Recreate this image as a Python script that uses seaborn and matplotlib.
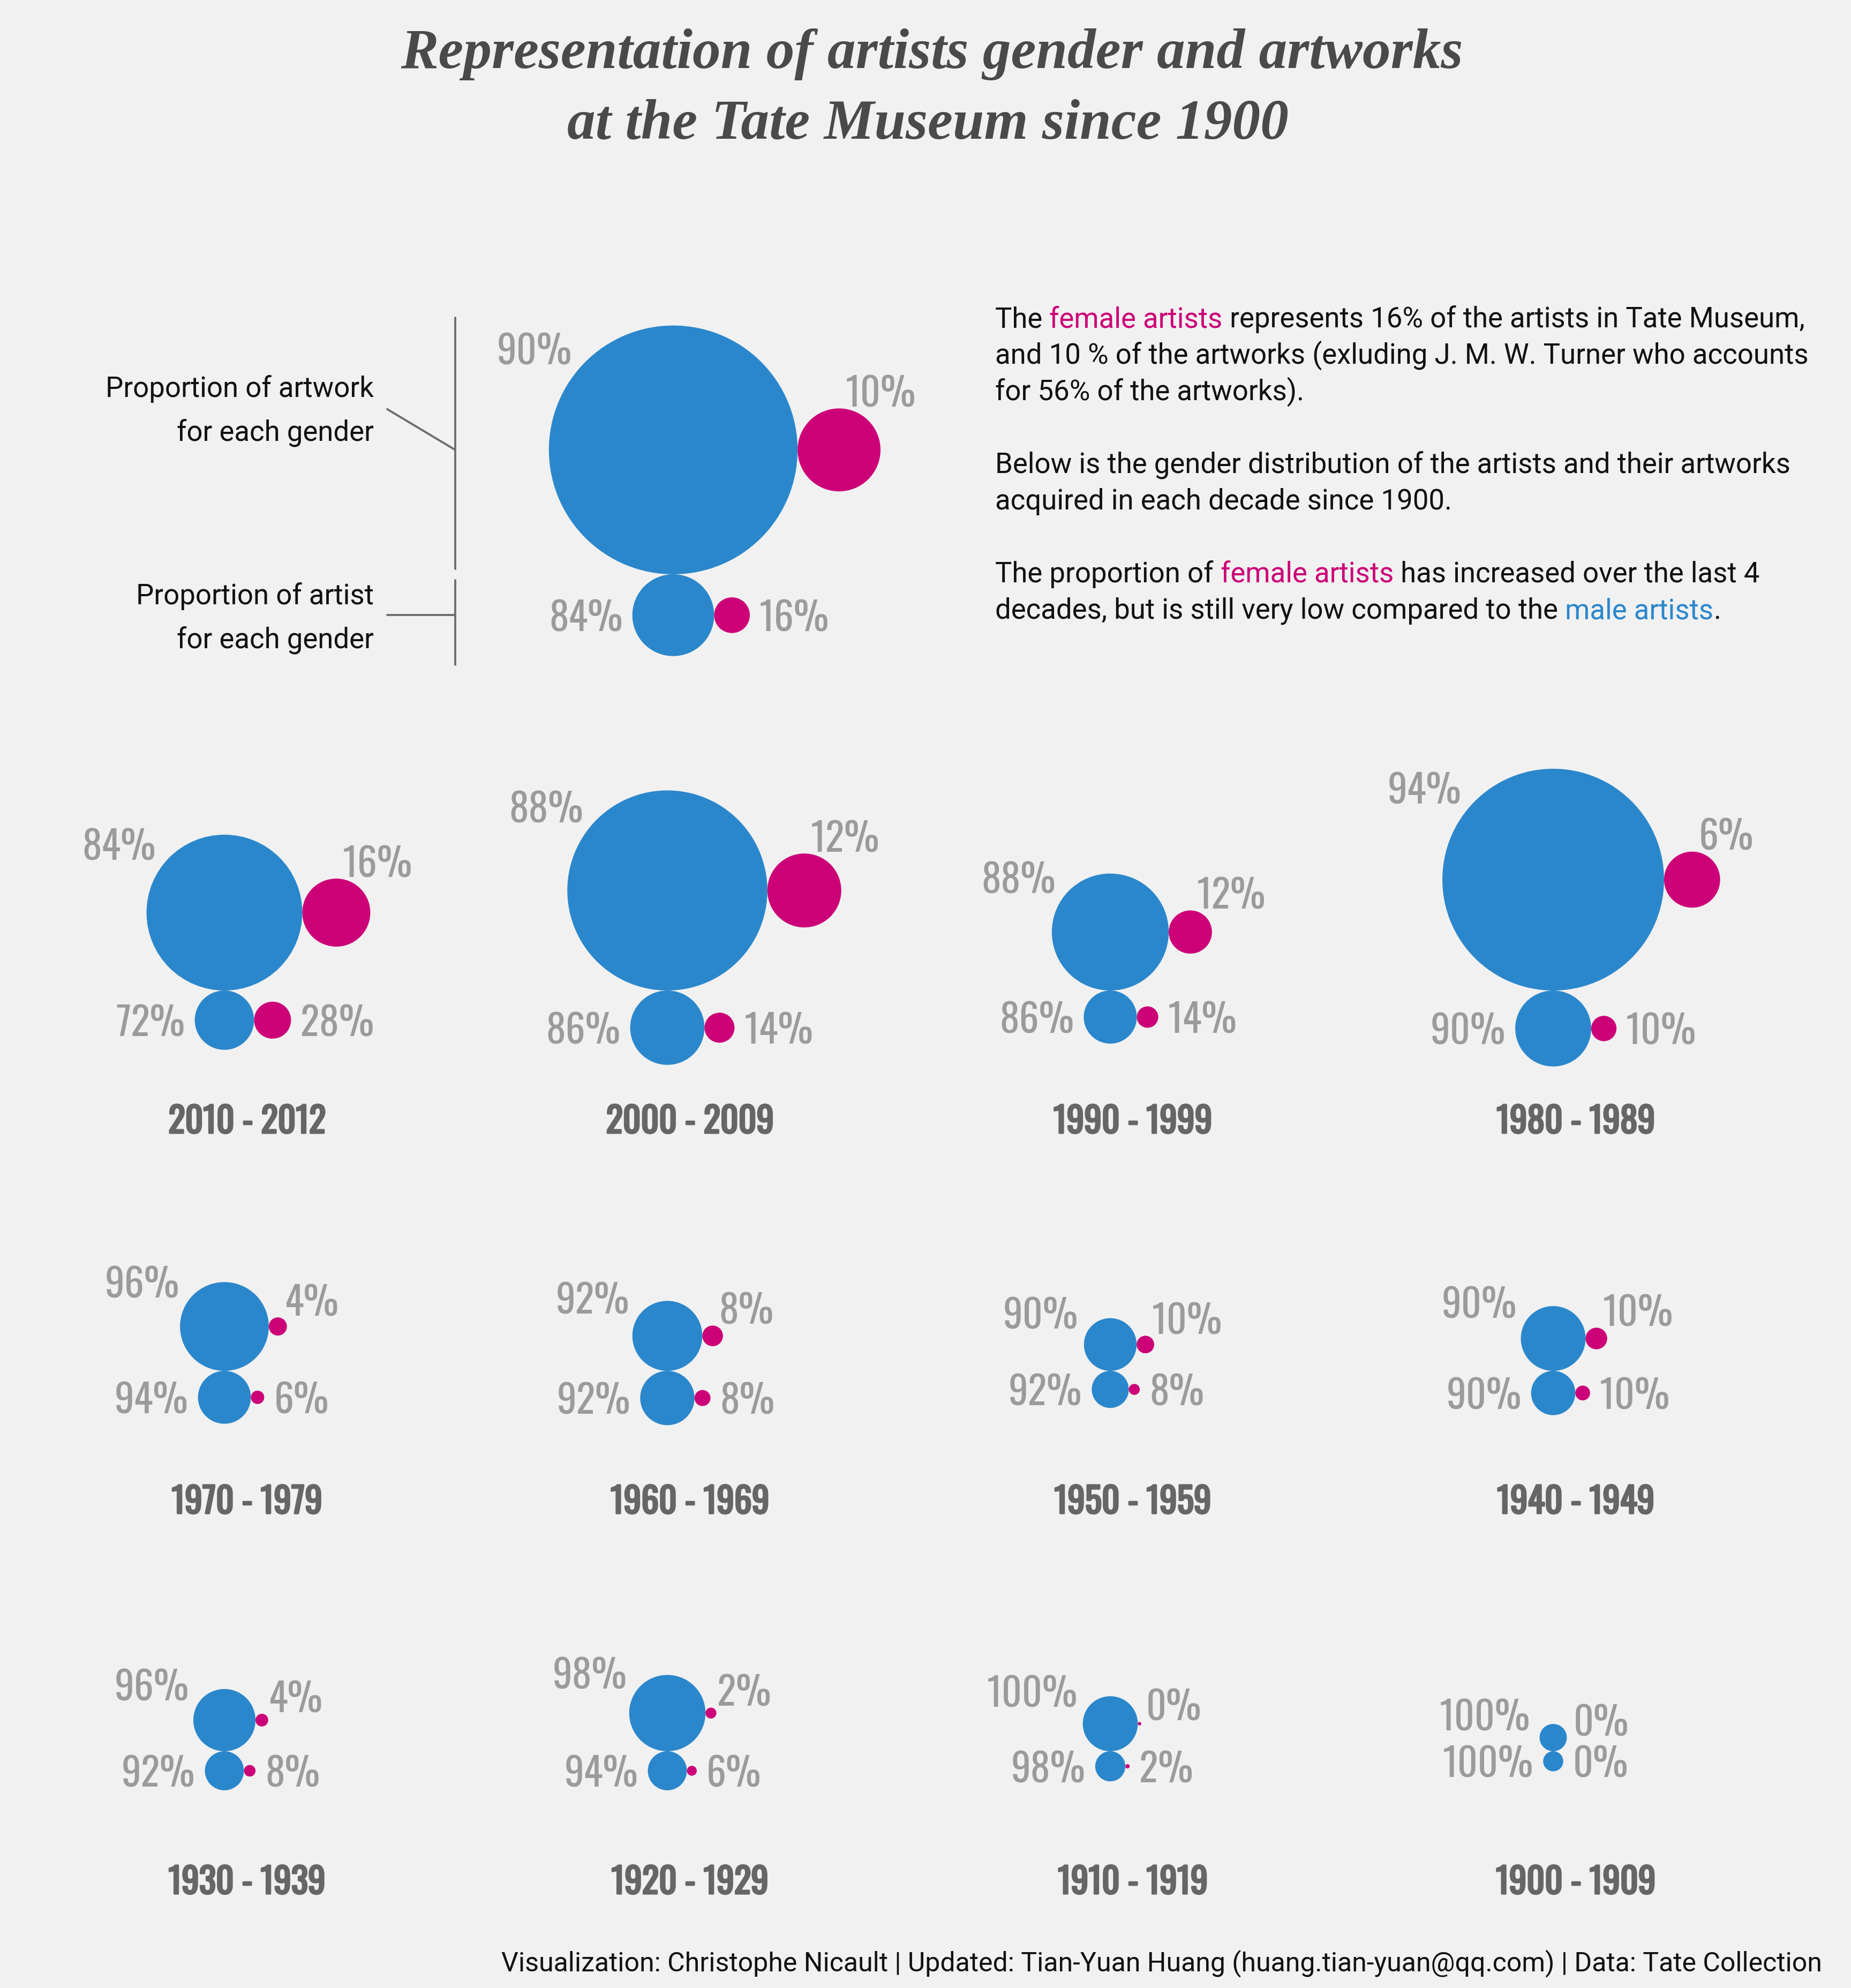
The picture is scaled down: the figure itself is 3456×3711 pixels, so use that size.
import numpy as np
import pandas as pd
import matplotlib
matplotlib.use("Agg")
import matplotlib.pyplot as plt
import matplotlib.patheffects as pe
import seaborn as sns
from matplotlib import font_manager

# canvas in pixels (1 data unit = 1 pixel)
W, H, DPI = 3456, 3712, 200

BG = "#f1f1f1"
MALE = "#2b87cc"
FEMALE = "#cc0077"
PCT_GREY = "#9b9b9b"
DECADE_GREY = "#666666"
LINE_GREY = "#6e6e6e"

# whole collection (J. M. W. Turner excluded)
overall_artworks_n = 29950
overall_artists_n = 3470
overall_artworks_female_pct = 10
overall_artists_female_pct = 16

# acquisitions per decade (estimated counts, read from circle areas)
decades = ["2010 - 2012", "2000 - 2009", "1990 - 1999", "1980 - 1989",
           "1970 - 1979", "1960 - 1969", "1950 - 1959", "1940 - 1949",
           "1930 - 1939", "1920 - 1929", "1910 - 1919", "1900 - 1909"]
artworks_n = [3148, 4955, 1693, 5697, 894, 580, 336, 508, 439, 647, 331, 81]
artists_n = [532, 700, 357, 698, 324, 349, 163, 237, 181, 177, 101, 44]
artworks_female_pct = [16, 12, 12, 6, 4, 8, 10, 10, 4, 2, 0.4, 0]
artists_female_pct = [28, 14, 14, 10, 6, 8, 8, 10, 8, 6, 2, 0]

# px^2 of circle area per item
OVERALL_K2 = 2.0
DECADE_K2 = 8.0

sns.set_theme(style="white", rc={"figure.facecolor": BG, "axes.facecolor": BG,
                                 "savefig.facecolor": BG})

fonts = font_manager.fontManager.ttflist
names = {f.name for f in fonts}


def pick(*cands):
    for c in cands:
        if c in names:
            return c
    return "DejaVu Sans"


BODY = pick("Roboto", "Noto Sans", "DejaVu Sans")
COND = pick("Oswald", "Roboto Condensed", "Liberation Sans Narrow", "Roboto")
TITLE = pick("Liberation Serif", "DejaVu Serif")
plt.rcParams["font.family"] = [BODY, "DejaVu Sans"]

# fake a bold weight if the condensed family only ships a regular one
has_bold = any(f.name == COND and int(f.weight) >= 600 for f in fonts
               if str(f.weight).isdigit())
bold_fx = [] if has_bold else [pe.withStroke(linewidth=1.2, foreground=DECADE_GREY)]

fig = plt.figure(figsize=(W / DPI, H / DPI), dpi=DPI)
ax = fig.add_axes([0, 0, 1, 1])

circles = []
PCT_SIZE = 26.5
CAP = 58  # pixel height of the percent digits


def pct_text(v):
    return f"{v:.0f}%"


def panel(cx, ty, n_art, n_arts, f_art, f_arts, k2, title=None):
    r_ma = np.sqrt(k2 * n_art * (100 - f_art) / 100)
    r_fa = np.sqrt(k2 * n_art * f_art / 100)
    r_mb = np.sqrt(k2 * n_arts * (100 - f_arts) / 100)
    r_fb = np.sqrt(k2 * n_arts * f_arts / 100)
    ya, yb = ty - r_ma, ty + r_mb
    xfa, xfb = cx + r_ma + r_fa, cx + r_mb + r_fb
    circles.extend([(cx, ya, r_ma, "male"), (xfa, ya, r_fa, "female"),
                    (cx, yb, r_mb, "male"), (xfb, yb, r_fb, "female")])

    kw = dict(family=[COND, "DejaVu Sans"], fontsize=PCT_SIZE, color=PCT_GREY,
              va="baseline", fontweight="light")
    d = r_ma * np.sqrt(0.5)
    ax.text(cx - d - 25, ya - d + 4, pct_text(100 - f_art), ha="right", **kw)
    ax.text(xfa + 12, ya - r_fa - 4, pct_text(f_art), ha="left", **kw)
    ax.text(cx - r_mb - 18, yb + CAP / 2, pct_text(100 - f_arts), ha="right", **kw)
    ax.text(xfb + r_fb + 18, yb + CAP / 2, pct_text(f_arts), ha="left", **kw)

    if title is not None:
        ax.text(cx + 42, ty + 266, title, ha="center", va="baseline",
                family=[COND, "DejaVu Sans"], fontsize=23.5, fontweight="bold",
                color=DECADE_GREY, path_effects=bold_fx)
    return r_ma, r_mb


# overview
ocx, oty = 1257, 1073
o_ma, o_mb = panel(ocx, oty, overall_artworks_n, overall_artists_n,
                   overall_artworks_female_pct, overall_artists_female_pct,
                   OVERALL_K2)

# decade grid, 4 columns x 3 rows
for i, dec in enumerate(decades):
    row, col = divmod(i, 4)
    panel(419 + 827 * col, 1850 + 710 * row, artworks_n[i], artists_n[i],
          artworks_female_pct[i], artists_female_pct[i], DECADE_K2, dec)

df = pd.DataFrame(circles, columns=["x", "y", "r", "gender"])
df = df[df["r"] > 0].reset_index(drop=True)
df["s"] = (2 * df["r"] * 72 / DPI) ** 2
sns.scatterplot(data=df, x="x", y="y", hue="gender",
                palette={"male": MALE, "female": FEMALE},
                s=df["s"].to_numpy(), linewidth=0, legend=False, ax=ax)

# legend brackets for the overview
bx = ocx - 407
ax.plot([bx, bx], [oty - 2 * o_ma - 15, oty - 10], color=LINE_GREY, lw=1.4)
ax.plot([bx - 127, bx], [oty - o_ma - 76, oty - o_ma], color=LINE_GREY, lw=1.4)
ax.plot([bx, bx], [oty + 11, oty + 2 * o_mb + 16], color=LINE_GREY, lw=1.4)
ax.plot([bx - 127, bx], [oty + o_mb, oty + o_mb], color=LINE_GREY, lw=1.4)

TXT_SIZE = 19
body = dict(fontsize=TXT_SIZE, color="#111111", va="baseline")
ax.text(698, 741, "Proportion of artwork", ha="right", **body)
ax.text(698, 823, "for each gender", ha="right", **body)
ax.text(698, 1128, "Proportion of artist", ha="right", **body)
ax.text(698, 1210, "for each gender", ha="right", **body)


def rich_line(x, y, parts):
    t = ax.text(x, y, parts[0][0], color=parts[0][1], ha="left",
                va="baseline", fontsize=TXT_SIZE)
    for txt, col in parts[1:]:
        t = ax.annotate(txt, xy=(1, 0), xycoords=t, ha="left", va="bottom",
                        color=col, fontsize=TXT_SIZE)


INK = "#111111"
lines = [
    [("The ", INK), ("female artists", FEMALE),
     (" represents 16% of the artists in Tate Museum,", INK)],
    [("and 10 % of the artworks (exluding J. M. W. Turner who accounts", INK)],
    [("for 56% of the artworks).", INK)],
    None,
    [("Below is the gender distribution of the artists and their artworks", INK)],
    [("acquired in each decade since 1900.", INK)],
    None,
    [("The proportion of ", INK), ("female artists", FEMALE),
     (" has increased over the last 4", INK)],
    [("decades, but is still very low compared to the ", INK),
     ("male artists", MALE), (".", INK)],
]
for i, parts in enumerate(lines):
    if parts:
        rich_line(1858, 611 + 68 * i, parts)

# title
tkw = dict(family=[TITLE, "DejaVu Serif"], fontsize=38, fontweight="bold",
           fontstyle="italic", color="#4a4a4a", ha="center", va="baseline")
ax.text(1740, 127, "Representation of artists gender and artworks", **tkw)
ax.text(1732, 258, "at the Tate Museum since 1900", **tkw)

ax.text(3402, 3679,
        "Visualization: Christophe Nicault | Updated: Tian-Yuan Huang "
        "(huang.tian-yuan@qq.com) | Data: Tate Collection",
        ha="right", va="baseline", fontsize=18, color="#111111")

ax.set_xlim(0, W)
ax.set_ylim(H, 0)
ax.axis("off")

fig.savefig("out.png", dpi=DPI, facecolor=BG)
